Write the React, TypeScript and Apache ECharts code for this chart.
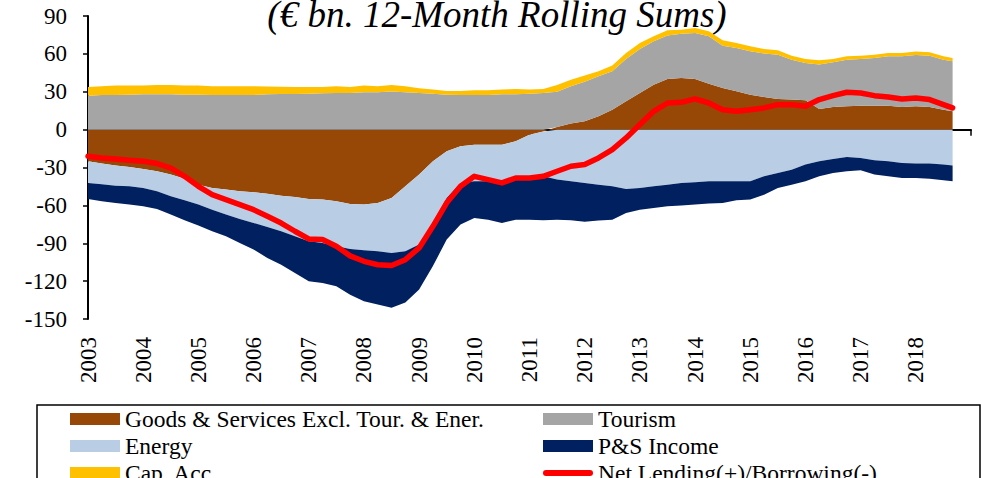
import React, { useEffect, useRef } from "react";
import * as echarts from "echarts";

// Quarterly readings (month of the reading), last one = end of data
const periods = [
  "2003-01", "2003-04", "2003-07", "2003-10",
  "2004-01", "2004-04", "2004-07", "2004-10",
  "2005-01", "2005-04", "2005-07", "2005-10",
  "2006-01", "2006-04", "2006-07", "2006-10",
  "2007-01", "2007-04", "2007-07", "2007-10",
  "2008-01", "2008-04", "2008-07", "2008-10",
  "2009-01", "2009-04", "2009-07", "2009-10",
  "2010-01", "2010-04", "2010-07", "2010-10",
  "2011-01", "2011-04", "2011-07", "2011-10",
  "2012-01", "2012-04", "2012-07", "2012-10",
  "2013-01", "2013-04", "2013-07", "2013-10",
  "2014-01", "2014-04", "2014-07", "2014-10",
  "2015-01", "2015-04", "2015-07", "2015-10",
  "2016-01", "2016-04", "2016-07", "2016-10",
  "2017-01", "2017-04", "2017-07", "2017-10",
  "2018-01", "2018-04", "2018-07", "2018-09",
];

const goods = [
  -25.1, -26.9, -28.5, -29.6, -31.2, -33.0, -35.6, -39.0,
  -43.6, -46.2, -47.5, -48.8, -49.6, -50.7, -52.3, -53.3,
  -54.9, -55.4, -56.8, -58.9, -59.4, -58.1, -54.1, -44.9,
  -35.6, -25.1, -17.2, -13.2, -11.9, -11.9, -11.9, -9.2,
  -4.0, -1.5, 2.0, 4.8, 6.6, 10.6, 15.8, 22.4,
  29.0, 35.6, 40.1, 40.9, 40.1, 36.4, 33.0, 30.4,
  27.7, 25.9, 24.3, 23.8, 23.2, 16.4, 18.0, 18.5,
  19.0, 19.0, 19.0, 18.0, 18.5, 18.0, 15.8, 14.5,
];

const tourism = [
  26.9, 27.5, 27.5, 27.7, 28.0, 28.0, 28.0, 27.7,
  27.7, 27.5, 27.5, 27.5, 27.5, 28.0, 28.3, 28.3,
  28.5, 28.8, 29.0, 29.0, 29.6, 29.6, 30.1, 29.6,
  29.0, 28.5, 27.7, 27.5, 27.5, 27.5, 28.0, 28.0,
  28.5, 29.0, 28.0, 29.5, 31.4, 31.6, 30.4, 33.6,
  34.9, 34.4, 34.4, 35.1, 36.5, 37.5, 33.5, 34.3,
  34.3, 34.3, 35.1, 31.6, 29.6, 35.1, 35.3, 36.9,
  37.0, 37.8, 39.1, 40.1, 40.6, 40.6, 39.6, 39.6,
];

const energy = [
  -17.1, -16.4, -15.9, -15.3, -15.0, -15.8, -17.2, -17.0,
  -15.8, -17.2, -19.8, -22.0, -24.3, -26.4, -28.2, -31.2,
  -33.5, -34.4, -35.6, -35.6, -36.2, -38.3, -43.6, -51.5,
  -55.4, -48.8, -36.9, -29.0, -29.0, -29.0, -29.8, -29.1,
  -34.3, -35.5, -39.6, -40.9, -42.2, -43.6, -44.9, -47.0,
  -46.2, -44.9, -43.6, -42.2, -41.7, -40.9, -40.9, -40.9,
  -40.9, -37.0, -34.3, -31.7, -27.7, -25.1, -23.2, -21.6,
  -22.4, -24.3, -25.1, -26.4, -26.9, -26.9, -27.7, -28.5,
];

const psIncome = [
  -12.7, -13.5, -13.7, -14.5, -14.5, -14.0, -14.5, -15.8,
  -16.6, -17.1, -17.2, -19.0, -21.1, -24.5, -26.5, -29.0,
  -31.6, -31.7, -31.6, -36.2, -40.4, -42.2, -43.3, -40.6,
  -35.7, -34.1, -33.0, -33.0, -29.1, -30.4, -32.3, -33.0,
  -33.0, -34.8, -31.7, -30.9, -30.7, -28.4, -26.4, -19.0,
  -17.2, -17.1, -17.1, -17.8, -17.7, -17.7, -17.2, -15.1,
  -14.5, -14.5, -11.9, -11.9, -13.2, -11.9, -11.1, -11.4,
  -9.8, -11.3, -11.9, -11.9, -11.4, -12.1, -12.4, -12.4,
];

const capAcc = [
  6.9, 6.8, 7.4, 7.2, 6.9, 7.4, 7.4, 7.2,
  7.2, 6.8, 6.8, 6.8, 6.8, 6.1, 5.7, 5.5,
  5.3, 5.0, 5.3, 4.8, 5.3, 4.7, 5.3, 4.7,
  3.7, 3.2, 2.9, 3.1, 3.7, 3.7, 3.7, 4.2,
  3.2, 3.2, 5.3, 5.3, 4.8, 4.0, 4.5, 4.7,
  4.7, 3.9, 4.2, 3.2, 3.9, 4.0, 4.3, 3.9,
  4.0, 3.7, 3.4, 3.2, 3.2, 3.4, 2.7, 2.7,
  2.6, 2.6, 2.6, 2.6, 2.7, 2.7, 2.7, 2.7,
];

const netLending = [
  -21.1, -22.4, -23.2, -24.3, -25.1, -26.9, -30.4, -37.0,
  -44.9, -51.5, -55.4, -59.4, -63.4, -68.6, -74.0, -80.5,
  -86.6, -87.1, -92.4, -100.0, -104.3, -107.0, -107.7, -103.0,
  -93.7, -76.6, -58.0, -44.9, -37.0, -39.6, -42.2, -38.3,
  -38.3, -37.0, -33.0, -29.0, -27.7, -22.4, -15.8, -6.6,
  4.0, 14.5, 21.1, 21.6, 24.3, 21.1, 15.8, 14.5,
  15.8, 17.2, 19.8, 19.8, 18.5, 23.8, 26.9, 29.6,
  29.0, 26.9, 25.9, 24.3, 25.1, 23.8, 19.8, 17.2,
];

const FIRST_YEAR = 2003;
const LAST_YEAR = 2019; // axis end (no label)

const NAMES = {
  goods: "Goods & Services Excl. Tour. & Ener.",
  tourism: "Tourism",
  energy: "Energy",
  ps: "P&S Income",
  cap: "Cap. Acc.",
  net: "Net Lending(+)/Borrowing(-)",
};

const TITLE = "(€ bn. 12-Month Rolling Sums)";

// monthly category axis from Jan FIRST_YEAR to Jan LAST_YEAR
const monthCats: string[] = [];
for (let y = FIRST_YEAR; y <= LAST_YEAR; y++) {
  for (let m = 1; m <= 12; m++) {
    if (y === LAST_YEAR && m > 1) break;
    monthCats.push(`${y}-${m < 10 ? "0" + m : m}`);
  }
}

export default function App() {
  const ref = useRef<HTMLDivElement>(null);

  useEffect(() => {
    document.body.style.margin = "0";
    const chart = echarts.init(ref.current!, null, { renderer: "svg" });
    const pair = (arr: number[]) => periods.map((p, i) => [p, arr[i]]);
    const font = "Liberation Serif";

    const area = (name: string, data: number[], color: string) => ({
      name,
      type: "line",
      stack: "total",
      stackStrategy: "samesign",
      data: pair(data),
      symbol: "none",
      showSymbol: false,
      lineStyle: { width: 0, color },
      itemStyle: { color },
      areaStyle: { color, opacity: 1 },
      emphasis: { disabled: true },
      z: 2,
    });

    const legendText = { fontSize: 23.5, fontFamily: font, color: "#000", lineHeight: 23 };
    const legendBase = {
      top: 407,
      orient: "vertical",
      itemWidth: 50,
      itemHeight: 12,
      itemGap: 3,
      padding: 0,
      height: 120,
      selectedMode: false,
      textStyle: legendText,
    };

    chart.setOption({
      animation: false,
      textStyle: { fontFamily: font },
      grid: { left: 88, right: 11, top: 16, bottom: 159 },
      xAxis: [
        {
          type: "category",
          data: monthCats,
          boundaryGap: false,
          axisLine: { onZero: true, lineStyle: { color: "#000", width: 2 } },
          axisTick: { show: true, interval: 11, length: 6, lineStyle: { color: "#000", width: 1.5 } },
          axisLabel: { show: false },
          splitLine: { show: false },
        },
        {
          type: "value",
          min: FIRST_YEAR,
          max: LAST_YEAR,
          interval: 1,
          position: "bottom",
          axisLine: { show: false, onZero: false },
          axisTick: { show: false },
          splitLine: { show: false },
          axisLabel: {
            rotate: 90,
            margin: 18,
            fontSize: 23,
            color: "#000",
            fontFamily: font,
            showMaxLabel: false,
            formatter: (v: number) => String(v),
          },
        },
      ],
      yAxis: {
        type: "value",
        min: -150,
        max: 90,
        interval: 30,
        axisLine: { show: true, onZero: false, lineStyle: { color: "#000", width: 2 } },
        axisTick: { show: true, length: 5, lineStyle: { color: "#000", width: 1.5 } },
        axisLabel: { fontSize: 23, color: "#000", margin: 21, fontFamily: font },
        splitLine: { show: false },
      },
      legend: [
        {
          ...legendBase,
          left: 70,
          data: [
            { name: NAMES.goods, icon: "rect" },
            { name: NAMES.energy, icon: "rect" },
            { name: NAMES.cap, icon: "rect" },
          ],
        },
        {
          ...legendBase,
          left: 543,
          data: [
            { name: NAMES.tourism, icon: "rect" },
            { name: NAMES.ps, icon: "rect" },
            {
              name: NAMES.net,
              icon: "path://M3,3 L47,3 A3,3 0 0 1 47,9 L3,9 A3,3 0 0 1 3,3 Z",
            },
          ],
        },
      ],
      graphic: [
        {
          type: "text",
          x: 497,
          y: 14,
          silent: true,
          style: {
            text: TITLE,
            fontSize: 37,
            fontStyle: "italic",
            fontFamily: font,
            fill: "#000",
            textAlign: "center",
            textVerticalAlign: "middle",
            align: "center",
            verticalAlign: "middle",
          },
        },
        {
          type: "rect",
          silent: true,
          shape: { x: 37, y: 405, width: 943, height: 100 },
          style: { fill: "none", stroke: "#000", lineWidth: 1.5 },
        },
      ],
      series: [
        area(NAMES.goods, goods, "#974706"),
        area(NAMES.tourism, tourism, "#A5A5A5"),
        area(NAMES.energy, energy, "#B9CDE5"),
        area(NAMES.ps, psIncome, "#002060"),
        area(NAMES.cap, capAcc, "#FFC000"),
        {
          name: NAMES.net,
          type: "line",
          data: pair(netLending),
          symbol: "none",
          showSymbol: false,
          lineStyle: { color: "#FF0000", width: 5.5, cap: "round", join: "round" },
          itemStyle: { color: "#FF0000" },
          emphasis: { disabled: true },
          z: 5,
        },
      ],
    });

    return () => chart.dispose();
  }, []);

  return (
    <div
      ref={ref}
      style={{ width: 982, height: 478, position: "absolute", left: 0, top: 0 }}
    />
  );
}
